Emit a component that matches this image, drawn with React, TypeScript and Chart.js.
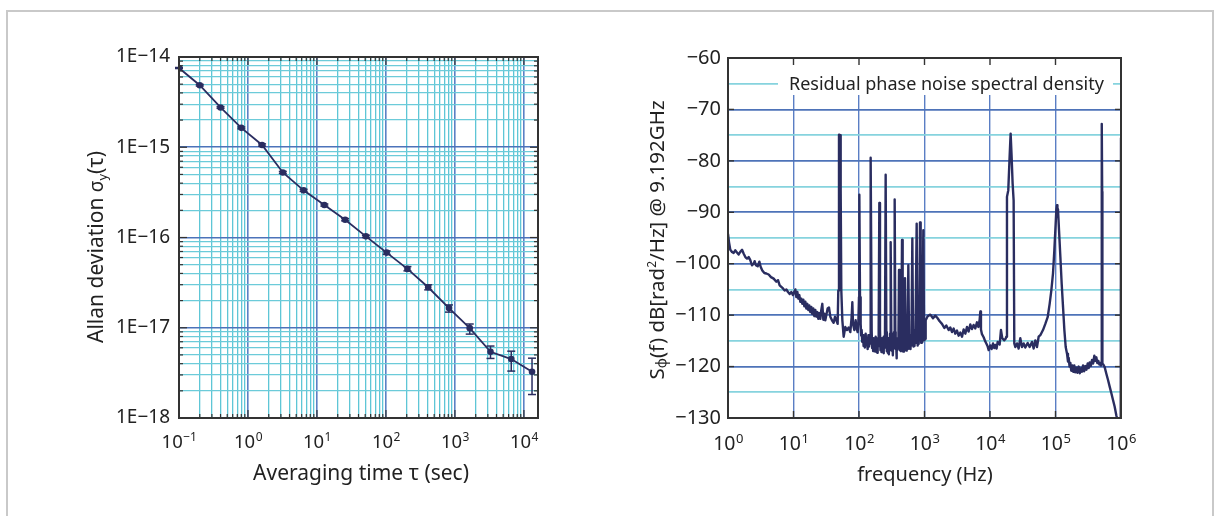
import React, { useEffect, useRef } from "react";
import { Chart, registerables } from "chart.js";

Chart.register(...registerables);

const FONT = '"Noto Sans", "DejaVu Sans", sans-serif';
const INK = "#222222";
const NAVY = "#2a2d60";
const FRAME = "#333333";

// ---------------- Left chart: Allan deviation ----------------
const tauSec = [0.1, 0.2, 0.4, 0.8, 1.6, 3.2, 6.4, 12.8, 25.6, 51.2, 102.4, 204.8, 409.6, 819.2, 1638.4, 3276.8, 6553.6, 13107.2];
const allanDev = [7.55e-15, 4.87e-15, 2.76e-15, 1.64e-15, 1.06e-15, 5.26e-16, 3.33e-16, 2.29e-16, 1.575e-16, 1.03e-16, 6.8e-17, 4.49e-17, 2.81e-17, 1.65e-17, 9.9e-18, 5.42e-18, 4.5e-18, 3.25e-18];
const allanErrHigh = [7.65e-15, 4.97e-15, 2.82e-15, 1.68e-15, 1.09e-15, 5.4e-16, 3.42e-16, 2.35e-16, 1.62e-16, 1.06e-16, 7.1e-17, 4.76e-17, 2.99e-17, 1.79e-17, 1.1e-17, 6.27e-18, 5.5e-18, 4.6e-18];
const allanErrLow = [7.45e-15, 4.77e-15, 2.7e-15, 1.6e-15, 1.03e-15, 5.12e-16, 3.24e-16, 2.23e-16, 1.53e-16, 1.0e-16, 6.5e-17, 4.27e-17, 2.63e-17, 1.49e-17, 8.5e-18, 4.57e-18, 3.31e-18, 1.82e-18];

const leftXMin = 0.1;
const leftXMax = 16000;
const leftXDecades = [0.1, 1, 10, 100, 1000, 10000];
const leftXDecadeExpLabels = ["\u22121", "0", "1", "2", "3", "4"];
const leftYMin = 1e-18;
const leftYMax = 1e-14;
const leftYDecades = [1e-18, 1e-17, 1e-16, 1e-15, 1e-14];
const leftYDecadeLabels = ["1E\u221218", "1E\u221217", "1E\u221216", "1E\u221215", "1E\u221214"];
const leftXTitle = "Averaging time \u03c4 (sec)";

// ---------------- Right chart: residual phase noise ----------------
const spectrumBelow10Hz: [number, number][] = [
  [1.0, -94.2], [1.036, -95.8], [1.085, -97.3], [1.15, -97.7], [1.22, -97.9], [1.29, -97.4], [1.37, -97.8], [1.455, -98.2],
  [1.54, -97.7], [1.64, -97.3], [1.73, -98.0], [1.84, -98.7], [1.95, -99.0], [2.07, -98.7], [2.19, -99.3], [2.32, -100.3],
  [2.47, -100.0], [2.55, -99.5], [2.67, -100.3], [2.84, -100.5], [3.01, -99.6], [3.15, -100.6], [3.34, -101.3], [3.59, -101.8],
  [3.85, -101.9], [4.18, -102.1], [4.53, -102.6], [4.98, -102.9], [5.47, -103.5], [5.8, -103.2], [6.15, -104.2], [6.52, -104.5],
  [6.91, -104.8], [7.33, -105.2], [7.78, -105.0], [8.24, -105.5], [8.74, -105.9], [9.27, -105.5], [9.82, -106.1],
];
const spectrum10HzTo1kHz: [number, number][] = [
  [10.67, -105.0], [11.05, -106.5], [11.45, -105.5], [11.85, -106.8], [12.28, -106.1], [12.71, -107.4], [13.17, -106.8], [13.64, -107.8],
  [14.13, -107.0], [14.63, -108.3], [15.16, -107.4], [15.7, -108.7], [16.26, -107.8], [16.84, -109.0], [17.44, -108.1], [18.06, -109.4],
  [18.71, -108.4], [19.38, -109.8], [20.07, -108.7], [20.79, -110.2], [21.53, -109.0], [22.3, -110.3], [23.1, -109.4], [23.92, -110.7],
  [24.78, -109.6], [25.67, -110.7], [26.58, -109.0], [27.53, -107.8], [28.52, -110.9], [29.54, -109.7], [30.6, -111.0], [31.69, -110.0],
  [33.2, -108.7], [34.8, -108.5], [36.5, -110.3], [38.7, -111.0], [41.0, -111.5], [43.0, -110.3], [45.1, -111.0], [47.2, -111.7],
  [48.3, -105.2], [49.5, -74.9], [51.3, -75.0], [52.5, -85.7], [53.7, -105.2], [55.7, -111.0], [58.3, -114.2], [61.8, -112.3],
  [65.6, -112.9], [69.5, -112.4], [73.7, -113.3], [77.3, -110.3], [79.1, -107.5], [81.0, -111.7], [84.9, -112.9], [88.9, -111.0],
  [92.1, -112.6], [95.4, -113.3], [97.7, -111.7], [100.0, -106.5], [101.2, -86.6], [103.6, -106.5], [106.0, -111.7], [108.0, -114.0],
  [109.8, -112.9], [112.0, -115.2], [115.1, -113.9], [117.5, -116.0], [120.6, -114.5], [123.0, -116.3], [126.4, -113.6], [129.0, -115.8],
  [132.5, -114.8], [135.5, -116.6], [138.9, -113.9], [142.0, -116.1], [145.5, -114.8], [147.5, -115.5], [148.9, -112.9], [152.4, -79.4],
  [156.1, -112.9], [158.5, -116.4], [161.7, -114.9], [164.5, -117.0], [167.5, -114.5], [170.5, -116.2], [173.5, -114.6], [176.5, -117.1],
  [179.7, -114.2], [183.0, -116.8], [186.1, -115.2], [189.5, -117.3], [192.8, -114.5], [196.0, -116.0], [199.7, -112.9], [204.4, -88.2],
  [209.2, -112.9], [212.5, -116.8], [216.7, -114.8], [220.5, -117.2], [224.4, -114.5], [228.5, -116.9], [232.5, -114.9], [236.5, -117.4],
  [240.8, -114.2], [245.0, -116.3], [249.4, -113.3], [255.3, -82.7], [261.4, -113.3], [266.0, -117.0], [270.8, -114.9], [275.5, -117.3],
  [280.5, -114.5], [285.5, -117.6], [290.5, -115.2], [294.0, -116.8], [297.4, -113.6], [304.4, -95.8], [311.6, -113.6], [317.0, -116.9],
  [322.8, -114.9], [328.5, -117.8], [334.3, -114.5], [338.0, -116.4], [342.3, -113.3], [350.4, -87.5], [358.7, -113.3], [363.0, -116.6],
  [367.2, -114.8], [372.0, -118.4], [376.0, -115.3], [380.3, -117.2], [387.0, -114.5], [394.0, -116.5], [398.5, -114.9], [403.3, -113.6],
  [408.1, -101.2], [412.9, -113.9], [420.0, -116.8], [427.7, -114.6], [435.0, -117.0], [443.0, -113.9], [453.5, -95.4], [464.2, -114.2],
  [472.0, -117.1], [480.8, -114.8], [486.0, -116.9], [492.2, -113.9], [503.8, -102.8], [515.8, -113.6], [525.0, -116.9], [534.3, -114.6],
  [544.0, -116.6], [553.4, -113.6], [566.5, -100.3], [580.0, -113.9], [590.0, -116.5], [600.7, -114.3], [611.0, -116.6], [622.3, -114.5],
  [630.0, -115.9], [637.0, -112.9], [652.1, -95.1], [667.6, -112.9], [679.0, -116.1], [691.5, -114.1], [704.0, -116.0], [716.3, -113.6],
  [725.0, -115.4], [733.2, -112.6], [759.5, -92.2], [777.5, -112.6], [786.0, -115.9], [795.9, -114.0], [805.0, -115.6], [814.7, -112.9],
  [824.0, -114.8], [834.0, -112.3], [853.7, -92.0], [873.9, -112.3], [889.0, -115.4], [905.3, -113.5], [916.0, -115.2], [926.7, -112.9],
  [959.9, -93.5], [982.6, -112.6], [994.0, -114.9], [1006, -113.0], [1018, -114.6], [1030, -111.7], [1054, -111.0],
];
const spectrum1kHzTo10kHz: [number, number][] = [
  [1117, -110.2], [1227, -109.9], [1349, -110.6], [1463, -110.1], [1588, -110.6], [1705, -111.2], [1849, -111.7], [2009, -112.5],
  [2153, -112.0], [2338, -112.9], [2477, -112.4], [2630, -113.3], [2787, -112.6], [2950, -113.6], [3133, -113.0], [3320, -114.0],
  [3523, -113.4], [3740, -114.2], [3958, -112.8], [4200, -113.6], [4449, -112.3], [4720, -113.2], [5001, -111.8], [5300, -112.7],
  [5623, -111.9], [5960, -112.6], [6322, -111.4], [6650, -112.3], [6949, -110.9], [7116, -109.3], [7278, -112.8], [7538, -113.7],
  [7998, -114.3], [8400, -115.0], [8788, -115.5], [9160, -116.0], [9546, -116.8],
];
const spectrumAbove10kHz: [number, number][] = [
  [10120, -115.9], [10600, -116.6], [11120, -115.5], [11600, -116.4], [12060, -115.8], [12600, -116.5], [13090, -115.2], [14050, -115.7],
  [14700, -112.9], [15400, -114.5], [16520, -114.9], [17300, -114.6], [17740, -114.2], [18160, -87.0], [19020, -85.7], [19930, -79.2],
  [20650, -74.7], [21390, -79.2], [22150, -84.4], [22950, -87.7], [23490, -115.5], [24330, -116.2], [25810, -115.5], [27370, -116.5],
  [29020, -114.5], [30780, -116.2], [32640, -115.5], [34610, -116.3], [37560, -115.4], [40290, -116.2], [43740, -115.2], [46380, -116.5],
  [49180, -114.9], [52150, -116.2], [55300, -114.2], [58640, -113.9], [64390, -112.9], [69920, -111.7], [75910, -110.4], [81440, -107.8],
  [86380, -105.2], [91600, -101.9], [95990, -97.4], [100600, -92.2], [103000, -89.5], [105500, -88.6], [107000, -90.2], [109200, -89.4],
  [113200, -93.5], [118700, -98.7], [124300, -103.9], [130300, -108.4], [136600, -112.9], [143100, -116.2], [150000, -117.5], [155000, -119.0],
  [159000, -118.3], [164000, -120.0], [168600, -119.3], [174000, -120.8], [180800, -119.8], [187000, -121.0], [193900, -119.8], [200000, -121.1],
  [208000, -120.2], [216000, -121.2], [225900, -120.0], [235000, -121.3], [245300, -120.3], [254000, -121.0], [263100, -119.8], [274000, -120.9],
  [285700, -119.9], [297000, -120.6], [310000, -119.4], [321000, -120.3], [332300, -119.2], [346000, -119.9], [360900, -118.7], [375000, -119.4],
  [391700, -117.9], [405000, -118.9], [420100, -118.2], [435000, -119.3], [450600, -118.9], [467000, -119.6], [483300, -119.3], [495000, -119.8],
  [503000, -119.2], [506000, -85.0], [511000, -72.8], [516000, -86.0], [520000, -119.4], [537400, -119.6], [563100, -120.1], [597500, -121.4],
  [633900, -122.6], [671700, -123.9], [712600, -125.2], [755200, -126.5], [801000, -127.8], [849000, -129.5], [889600, -130.5], [940000, -132.5],
  [990000, -134.0], [1000000, -75.5],
];

const rightXMin = 1;
const rightXMax = 1e6;
const rightXDecades = [1, 10, 100, 1e3, 1e4, 1e5, 1e6];
const rightXDecadeExpLabels = ["0", "1", "2", "3", "4", "5", "6"];
const rightYTicks = [-130, -125, -120, -115, -110, -105, -100, -95, -90, -85, -80, -75, -70, -65, -60];
const rightYTickLabels = ["\u2212130", "", "\u2212120", "", "\u2212110", "", "\u2212100", "", "\u221290", "", "\u221280", "", "\u221270", "", "\u221260"];
const rightXTitle = "frequency (Hz)";
const legendLabel = "Residual phase noise spectral density";

// ---------------- helpers ----------------
type Tick = { value: number; major: boolean };

function logGrid(decades: number[], maxValue: number): Tick[] {
  const out: Tick[] = [];
  decades.forEach((d) => {
    for (let k = 1; k <= 9; k++) {
      const v = k * d;
      if (v > maxValue * 1.000001) break;
      out.push({ value: v, major: k === 1 });
    }
  });
  return out;
}

type Part = { t: string; size: number; dy: number };

function drawParts(ctx: CanvasRenderingContext2D, parts: Part[], cx: number, cy: number, angle: number) {
  ctx.save();
  ctx.translate(cx, cy);
  ctx.rotate(angle);
  ctx.fillStyle = INK;
  ctx.textAlign = "left";
  ctx.textBaseline = "alphabetic";
  let total = 0;
  const widths = parts.map((p) => {
    ctx.font = `${p.size}px ${FONT}`;
    const w = ctx.measureText(p.t).width;
    total += w;
    return w;
  });
  let x = -total / 2;
  parts.forEach((p, i) => {
    ctx.font = `${p.size}px ${FONT}`;
    ctx.fillText(p.t, x, p.dy);
    x += widths[i];
  });
  ctx.restore();
}

function drawPowerLabel(ctx: CanvasRenderingContext2D, px: number, baseline: number, exp: string, size: number, expSize: number, rise: number) {
  ctx.font = `${size}px ${FONT}`;
  const w1 = ctx.measureText("10").width;
  ctx.font = `${expSize}px ${FONT}`;
  const w2 = ctx.measureText(exp).width;
  const start = px - (w1 + w2) / 2;
  ctx.fillStyle = INK;
  ctx.textAlign = "left";
  ctx.textBaseline = "alphabetic";
  ctx.font = `${size}px ${FONT}`;
  ctx.fillText("10", start, baseline);
  ctx.font = `${expSize}px ${FONT}`;
  ctx.fillText(exp, start + w1 + 0.5, baseline - rise);
}

function seg(ctx: CanvasRenderingContext2D, x1: number, y1: number, x2: number, y2: number) {
  ctx.beginPath();
  ctx.moveTo(x1, y1);
  ctx.lineTo(x2, y2);
  ctx.stroke();
}

const isDecade = (v: number, list: number[]) => list.findIndex((d) => Math.abs(Math.log10(v) - Math.log10(d)) < 1e-6);

// ---------------- left chart config ----------------
const leftXTicks = logGrid(leftXDecades, leftXMax);
const leftYTicks = logGrid(leftYDecades, leftYMax);

const leftDecor = {
  id: "leftDecor",
  afterDatasetsDraw(chart: any) {
    const { ctx, scales } = chart;
    const x = scales.x;
    const y = scales.y;
    ctx.save();
    ctx.strokeStyle = NAVY;
    ctx.lineWidth = 1.5;
    tauSec.forEach((t, i) => {
      const px = x.getPixelForValue(t);
      const yHi = y.getPixelForValue(allanErrHigh[i]);
      const yLo = y.getPixelForValue(allanErrLow[i]);
      seg(ctx, px, yHi, px, yLo);
      seg(ctx, px - 4, yHi, px + 4, yHi);
      seg(ctx, px - 4, yLo, px + 4, yLo);
    });
    ctx.restore();
  },
  afterDraw(chart: any) {
    const { ctx, chartArea: a, scales } = chart;
    const x = scales.x;
    const y = scales.y;
    ctx.save();
    ctx.strokeStyle = FRAME;
    ctx.lineWidth = 1.2;
    leftXTicks.forEach((t) => {
      const px = x.getPixelForValue(t.value);
      if (px < a.left + 1 || px > a.right - 1) return;
      const len = t.major ? 8 : 4;
      seg(ctx, px, a.bottom, px, a.bottom - len);
      seg(ctx, px, a.top, px, a.top + len);
    });
    leftYTicks.forEach((t) => {
      const py = y.getPixelForValue(t.value);
      if (py < a.top + 1 || py > a.bottom - 1) return;
      const len = t.major ? 8 : 4;
      seg(ctx, a.left, py, a.left + len, py);
      seg(ctx, a.right, py, a.right - len, py);
    });
    ctx.lineWidth = 2;
    ctx.strokeRect(a.left, a.top, a.right - a.left, a.bottom - a.top);
    leftXDecades.forEach((d, i) => {
      drawPowerLabel(ctx, x.getPixelForValue(d), a.bottom + 30, leftXDecadeExpLabels[i], 18.5, 12, 7);
    });
    drawParts(ctx, [{ t: leftXTitle, size: 21, dy: 0 }], 301, a.bottom + 62, 0);
    drawParts(
      ctx,
      [
        { t: "Allan deviation ", size: 21, dy: 0 },
        { t: "\u03c3", size: 19, dy: 0 },
        { t: "y", size: 13, dy: 4 },
        { t: "(\u03c4)", size: 21, dy: 0 },
      ],
      43,
      217,
      -Math.PI / 2
    );
    ctx.restore();
  },
};

function leftConfig(): any {
  return {
    type: "line",
    data: {
      datasets: [
        {
          data: tauSec.map((t, i) => ({ x: t, y: allanDev[i] })),
          borderColor: NAVY,
          backgroundColor: NAVY,
          borderWidth: 1.8,
          pointRadius: 3.3,
          pointHoverRadius: 3.3,
          pointBackgroundColor: NAVY,
          pointBorderColor: NAVY,
          pointBorderWidth: 0,
          tension: 0,
        },
      ],
    },
    options: {
      responsive: false,
      animation: false,
      events: [],
      layout: { padding: { top: 27, right: 42, left: 0, bottom: 0 } },
      plugins: { legend: { display: false }, tooltip: { enabled: false }, title: { display: false } },
      scales: {
        x: {
          type: "logarithmic",
          min: leftXMin,
          max: leftXMax,
          afterFit: (s: any) => {
            s.height = 82;
          },
          afterBuildTicks: (s: any) => {
            s.ticks = leftXTicks.map((t) => ({ ...t }));
          },
          ticks: { display: false, autoSkip: false },
          grid: {
            drawTicks: false,
            color: (c: any) => (c.tick && c.tick.major ? "#5b80c5" : "#5ec6d6"),
            lineWidth: (c: any) => (c.tick && c.tick.major ? 1.6 : 1.3),
          },
          border: { display: false },
        },
        y: {
          type: "logarithmic",
          min: leftYMin,
          max: leftYMax,
          afterFit: (s: any) => {
            s.width = 119;
          },
          afterBuildTicks: (s: any) => {
            s.ticks = leftYTicks.map((t) => ({ ...t }));
          },
          ticks: {
            autoSkip: false,
            padding: 9,
            color: INK,
            font: { family: FONT, size: 19 },
            callback: (v: number) => {
              const i = isDecade(v, leftYDecades);
              return i >= 0 ? leftYDecadeLabels[i] : "";
            },
          },
          grid: {
            drawTicks: false,
            color: (c: any) => (c.tick && c.tick.major ? "#4c73ba" : "#6ccbd9"),
            lineWidth: (c: any) => (c.tick && c.tick.major ? 1.6 : 1.3),
          },
          border: { display: false },
        },
      },
    },
    plugins: [leftDecor],
  };
}

// ---------------- right chart config ----------------
const rightSpectrum = [...spectrumBelow10Hz, ...spectrum10HzTo1kHz, ...spectrum1kHzTo10kHz, ...spectrumAbove10kHz];

const rightDecor = {
  id: "rightDecor",
  beforeDatasetsDraw(chart: any) {
    const { ctx, chartArea: a } = chart;
    ctx.save();
    ctx.fillStyle = "#ffffff";
    ctx.fillRect(a.left + 50, a.top, a.right - 8 - (a.left + 50), 37);
    ctx.fillStyle = INK;
    ctx.font = `18px ${FONT}`;
    ctx.textAlign = "left";
    ctx.textBaseline = "alphabetic";
    ctx.fillText(legendLabel, a.left + 61, a.top + 31.5);
    ctx.restore();
  },
  afterDraw(chart: any) {
    const { ctx, chartArea: a, scales } = chart;
    const x = scales.x;
    const y = scales.y;
    ctx.save();
    ctx.strokeStyle = FRAME;
    ctx.lineWidth = 1.4;
    rightXDecades.forEach((d) => {
      const px = x.getPixelForValue(d);
      if (px < a.left + 1 || px > a.right - 1) return;
      seg(ctx, px, a.bottom, px, a.bottom - 7);
      seg(ctx, px, a.top, px, a.top + 7);
    });
    rightYTicks.forEach((v, i) => {
      if (!rightYTickLabels[i]) return;
      const py = y.getPixelForValue(v);
      if (py < a.top + 1 || py > a.bottom - 1) return;
      seg(ctx, a.left, py, a.left + 6, py);
      seg(ctx, a.right, py, a.right - 6, py);
    });
    ctx.lineWidth = 2;
    ctx.strokeRect(a.left, a.top, a.right - a.left, a.bottom - a.top);
    rightXDecades.forEach((d, i) => {
      drawPowerLabel(ctx, x.getPixelForValue(d), a.bottom + 32, rightXDecadeExpLabels[i], 19.5, 13, 7);
    });
    drawParts(ctx, [{ t: rightXTitle, size: 20, dy: 0 }], 295, a.bottom + 63, 0);
    drawParts(
      ctx,
      [
        { t: "S", size: 20.5, dy: 0 },
        { t: "\u03c6", size: 14, dy: 2 },
        { t: "(f) dB[rad", size: 20.5, dy: 0 },
        { t: "2", size: 12, dy: -8 },
        { t: "/Hz] @ 9.192GHz", size: 20.5, dy: 0 },
      ],
      34,
      210,
      -Math.PI / 2
    );
    ctx.restore();
  },
};

function rightConfig(): any {
  return {
    type: "line",
    data: {
      datasets: [
        {
          data: rightSpectrum.map(([f, v]) => ({ x: f, y: v })),
          borderColor: NAVY,
          borderWidth: 2.4,
          borderJoinStyle: "round",
          pointRadius: 0,
          pointHoverRadius: 0,
          tension: 0,
        },
      ],
    },
    options: {
      responsive: false,
      animation: false,
      events: [],
      layout: { padding: { top: 28, right: 29, left: 0, bottom: 0 } },
      plugins: { legend: { display: false }, tooltip: { enabled: false }, title: { display: false } },
      scales: {
        x: {
          type: "logarithmic",
          min: rightXMin,
          max: rightXMax,
          afterFit: (s: any) => {
            s.height = 82;
          },
          afterBuildTicks: (s: any) => {
            s.ticks = rightXDecades.map((d) => ({ value: d, major: true }));
          },
          ticks: { display: false, autoSkip: false },
          grid: { drawTicks: false, color: "#5a7ec4", lineWidth: 1.4 },
          border: { display: false },
        },
        y: {
          type: "linear",
          min: -130,
          max: -60,
          afterFit: (s: any) => {
            s.width = 98;
          },
          afterBuildTicks: (s: any) => {
            s.ticks = rightYTicks.map((v) => ({ value: v }));
          },
          ticks: {
            autoSkip: false,
            padding: 7,
            color: INK,
            font: { family: FONT, size: 20 },
            callback: (v: number) => {
              const i = rightYTicks.indexOf(v);
              return i >= 0 ? rightYTickLabels[i] : "";
            },
          },
          grid: {
            drawTicks: false,
            color: (c: any) => (c.tick && c.tick.value % 10 === 0 ? "#4e73b8" : "#86d3de"),
            lineWidth: 1.7,
          },
          border: { display: false },
        },
      },
    },
    plugins: [rightDecor],
  };
}

export default function App() {
  const leftRef = useRef<HTMLCanvasElement | null>(null);
  const rightRef = useRef<HTMLCanvasElement | null>(null);

  useEffect(() => {
    if (!leftRef.current || !rightRef.current) return;
    const c1 = new Chart(leftRef.current, leftConfig());
    const c2 = new Chart(rightRef.current, rightConfig());
    return () => {
      c1.destroy();
      c2.destroy();
    };
  }, []);

  return (
    <div style={{ position: "fixed", left: 0, top: 0, width: 1214, height: 516, background: "#ffffff", overflow: "hidden" }}>
      <div
        style={{
          position: "absolute",
          left: 6,
          top: 10,
          width: 1208,
          height: 540,
          border: "2px solid #c9c9c9",
          boxSizing: "border-box",
        }}
      />
      <canvas ref={leftRef} width={520} height={470} style={{ position: "absolute", left: 60, top: 30 }} />
      <canvas ref={rightRef} width={520} height={470} style={{ position: "absolute", left: 630, top: 30 }} />
    </div>
  );
}
